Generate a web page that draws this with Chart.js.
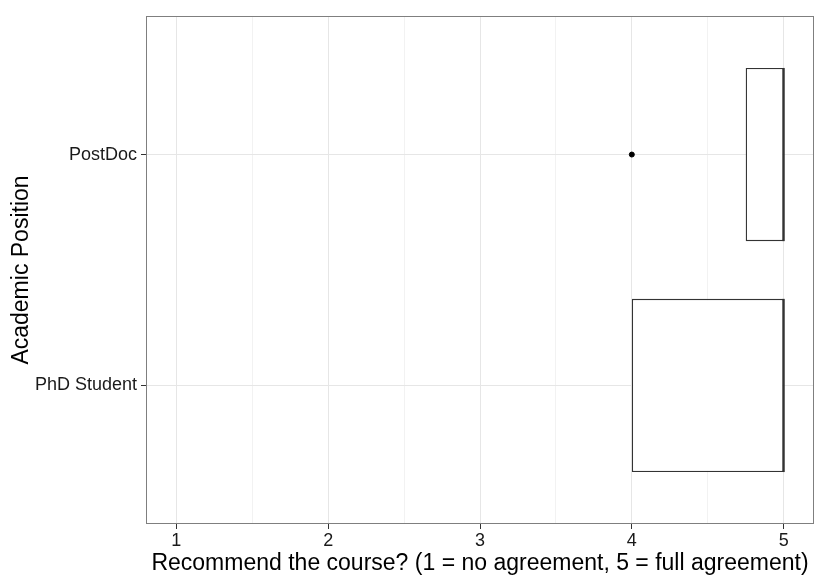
<!DOCTYPE html>
<html>
<head>
<meta charset="utf-8">
<script src="https://cdn.jsdelivr.net/npm/chart.js@4"></script>
<style>
  body { margin: 0; background: #fff; }
  #wrap { width: 830px; height: 581px; }
</style>
</head>
<body>
<div id="wrap"><canvas id="myChart"></canvas></div>
<script>
// Box plot data per academic position (bottom to top)
const categories = ['PhD Student', 'PostDoc'];
const lowerQuartile = [4, 4.75];
const medians = [5, 5];
const upperQuartile = [5, 5];
const whiskerLow = [4, 4.75];
const whiskerHigh = [5, 5];
// Outliers: [category index, value]
const outliers = [[1, 4]];
const xTicks = [1, 2, 3, 4, 5];

const boxWidth = 0.75;
const fontName = "'Liberation Sans', Arial, sans-serif";

// Build datasets from the arrays
const boxData = categories.map((c, i) => ({ x: [lowerQuartile[i], upperQuartile[i]], y: i + 1 }));

const datasets = [{
    type: 'bar',
    indexAxis: 'y',
    data: boxData,
    backgroundColor: '#ffffff',
    borderColor: '#333333',
    borderWidth: 1.3,
    borderSkipped: false,
    categoryPercentage: 1,
    barPercentage: boxWidth,
    order: 2
}];

categories.forEach((c, i) => {
    // median line
    datasets.push({
        type: 'line',
        data: [{ x: medians[i], y: i + 1 - boxWidth / 2 }, { x: medians[i], y: i + 1 + boxWidth / 2 }],
        borderColor: '#333333',
        borderWidth: 2.2,
        pointRadius: 0,
        order: 1
    });
    // whiskers
    datasets.push({
        type: 'line',
        data: [{ x: whiskerLow[i], y: i + 1 }, { x: lowerQuartile[i], y: i + 1 }],
        borderColor: '#333333',
        borderWidth: 1,
        pointRadius: 0,
        order: 1
    });
    datasets.push({
        type: 'line',
        data: [{ x: upperQuartile[i], y: i + 1 }, { x: whiskerHigh[i], y: i + 1 }],
        borderColor: '#333333',
        borderWidth: 1,
        pointRadius: 0,
        order: 1
    });
});

datasets.push({
    type: 'scatter',
    data: outliers.map(o => ({ x: o[1], y: o[0] + 1 })),
    backgroundColor: '#000000',
    borderColor: '#000000',
    pointRadius: 2.5,
    order: 0
});

// Panel border all round
const panelBorder = {
    id: 'panelBorder',
    afterDraw(chart) {
        const a = chart.chartArea;
        const ctx = chart.ctx;
        ctx.save();
        ctx.strokeStyle = '#7f7f7f';
        ctx.lineWidth = 1;
        ctx.strokeRect(a.left + 0.5, a.top + 0.5, a.right - a.left - 1, a.bottom - a.top - 1);
        ctx.restore();
    }
};

const isMajor = v => Number.isInteger(v);

const ctx = document.getElementById('myChart').getContext('2d');
const chart = new Chart(ctx, {
    data: { datasets: datasets },
    plugins: [panelBorder],
    options: {
        responsive: true,
        maintainAspectRatio: false,
        animation: false,
        layout: { padding: { left: 0, right: 16, top: 16, bottom: 0 } },
        plugins: { legend: { display: false }, tooltip: { enabled: false } },
        scales: {
            x: {
                type: 'linear',
                min: 0.8,
                max: 5.2,
                offset: false,
                afterBuildTicks(scale) {
                    const t = [];
                    xTicks.forEach((v, i) => {
                        t.push({ value: v });
                        if (i < xTicks.length - 1) t.push({ value: (v + xTicks[i + 1]) / 2 });
                    });
                    scale.ticks = t;
                },
                afterFit(scale) { scale.height = 57; },
                ticks: {
                    autoSkip: false,
                    maxRotation: 0,
                    padding: 1,
                    color: '#1a1a1a',
                    font: { family: fontName, size: 18 },
                    callback: v => isMajor(v) ? String(v) : ''
                },
                grid: {
                    offset: false,
                    color: c => isMajor(c.tick.value) ? '#e6e6e6' : '#f2f2f2',
                    tickColor: c => isMajor(c.tick.value) ? '#333333' : 'rgba(0,0,0,0)',
                    tickLength: 5
                },
                border: { display: false },
                title: {
                    display: true,
                    text: 'Recommend the course? (1 = no agreement, 5 = full agreement)',
                    color: '#000',
                    font: { family: fontName, size: 23 },
                    padding: { top: 0, bottom: 4 }
                }
            },
            y: {
                type: 'linear',
                min: 0.4,
                max: 2.6,
                offset: false,
                afterBuildTicks(scale) {
                    scale.ticks = categories.map((c, i) => ({ value: i + 1 }));
                },
                afterFit(scale) { scale.width = 146; },
                ticks: {
                    autoSkip: false,
                    padding: 4,
                    color: '#1a1a1a',
                    font: { family: fontName, size: 18 },
                    callback: v => categories[v - 1]
                },
                grid: {
                    offset: false,
                    color: '#e6e6e6',
                    tickColor: '#333333',
                    tickLength: 5
                },
                border: { display: false },
                title: {
                    display: true,
                    text: 'Academic Position',
                    color: '#000',
                    font: { family: fontName, size: 23 },
                    padding: { top: 8, bottom: 0 }
                }
            }
        }
    }
});
</script>
</body>
</html>
